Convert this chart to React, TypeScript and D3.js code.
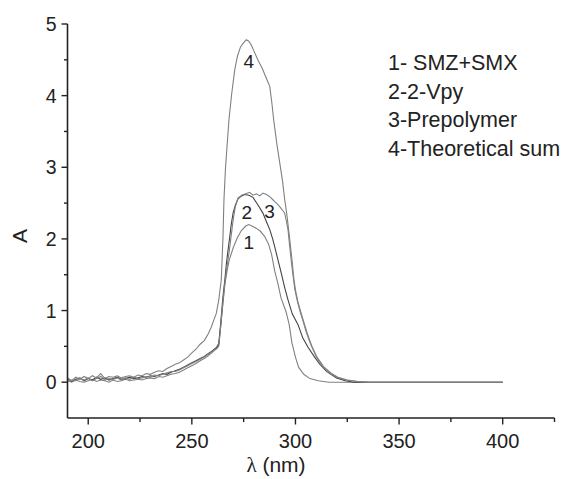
import React from "react";
import * as d3 from "d3";

const W = 577;
const H = 479;

const baseWl = [190,192,194,196,198,200,202,204,206,208,210,212,214,216,218,220,222,224,226,228,230,232,234,236,238,240];

const wl1 = [...baseWl, 242,244,246,248,250,252,254,256,258,260,262,263,264,265,266,267,268,270,272,274,276,277.5,279,281,283,285,287,288.5,290,291.5,293,295.5,297,298.3,300,301.5,304,307,311,316,350,375,400];
const a1 = [0.02,0.00,0.03,0.01,0.00,0.02,0.04,0.01,0.03,0.02,0.00,0.03,0.01,0.02,0.04,0.02,0.03,0.04,0.03,0.05,0.06,0.05,0.08,0.07,0.09,0.11,
  0.12,0.14,0.17,0.20,0.23,0.26,0.30,0.33,0.37,0.42,0.47,0.52,0.80,1.10,1.38,1.55,1.70,1.88,2.02,2.12,2.18,2.20,2.18,2.15,2.11,2.04,1.93,1.78,1.55,1.38,1.18,0.98,0.80,0.55,0.35,0.21,0.11,0.05,0.02,0.0,0.0,0.0,0.0];

const wl2 = [...baseWl, 242,244,246,248,250,252,254,256,258,260,262,263,264,265,266,266.7,267.5,268.3,269,269.9,271,272.3,274,275.5,277.5,279.5,282,284.3,286,287.6,289,290,291.2,292.4,293.5,294.8,296.4,298.5,301.3,303.5,306,309,311.7,315,319.8,324,328,375,400];
const a2 = [0.05,0.01,0.04,0.06,0.02,0.05,0.03,0.07,0.04,0.06,0.03,0.05,0.07,0.04,0.05,0.07,0.05,0.06,0.08,0.07,0.09,0.08,0.10,0.12,0.11,0.14,
  0.16,0.18,0.21,0.24,0.27,0.30,0.33,0.36,0.40,0.44,0.49,0.54,0.85,1.19,1.45,1.66,1.85,2.03,2.20,2.36,2.47,2.56,2.60,2.62,2.61,2.58,2.47,2.36,2.24,2.13,2.00,1.89,1.75,1.61,1.48,1.32,1.15,0.95,0.80,0.62,0.49,0.36,0.25,0.15,0.06,0.02,0.0,0.0,0.0];

const wl3 = [...baseWl, 242,244,246,248,250,252,254,256,258,260,262,263,264,265,266,267,268,269,270,271,272.3,274,276,277.9,279.5,281.2,282.8,284.3,286,287.6,289,290,291.2,292.4,293.5,294.8,295.6,296.4,297.2,298.1,299,299.7,301,302.1,303.7,305.3,307.5,310.1,313,316.6,320,324.6,330,335,375,400];
const a3 = [0.01,0.03,0.02,0.05,0.03,0.06,0.02,0.05,0.08,0.03,0.05,0.04,0.06,0.03,0.06,0.04,0.07,0.05,0.06,0.08,0.07,0.10,0.09,0.11,0.13,0.15,
  0.15,0.17,0.20,0.23,0.26,0.29,0.32,0.35,0.39,0.43,0.47,0.50,0.80,1.12,1.40,1.62,1.82,2.05,2.28,2.45,2.57,2.61,2.63,2.65,2.61,2.63,2.60,2.64,2.62,2.59,2.55,2.52,2.49,2.45,2.41,2.36,2.25,2.13,1.90,1.66,1.45,1.29,1.12,1.00,0.85,0.69,0.52,0.35,0.22,0.13,0.07,0.03,0.01,0.0,0.0,0.0];

const wl4 = [...baseWl, 242,244,246,248,250,252,254,256,258,259.4,260.5,261.8,263,264.2,265,265.5,266.2,267,267.9,269.2,270.7,272,273.5,275,276.3,277.5,278.8,280.3,282,284,286,287.6,288.6,289.5,291,292.9,293.8,294.8,295.8,296.7,297.6,298.5,299.2,300,301.2,302.4,304,305.6,307.8,310.4,313.5,317,320.5,325,330,336,400];
const a4 = [0.06,0.02,0.07,0.04,0.08,0.05,0.09,0.06,0.12,0.05,0.08,0.07,0.09,0.06,0.08,0.09,0.07,0.10,0.09,0.12,0.11,0.14,0.16,0.15,0.19,0.22,
  0.25,0.27,0.31,0.35,0.41,0.46,0.53,0.58,0.68,0.77,0.86,0.96,1.15,1.43,2.00,2.55,2.97,3.30,3.66,4.02,4.36,4.55,4.68,4.74,4.78,4.76,4.70,4.60,4.49,4.38,4.24,4.13,3.90,3.66,3.33,2.97,2.80,2.55,2.35,2.13,1.90,1.66,1.45,1.29,1.12,1.00,0.84,0.69,0.51,0.35,0.22,0.13,0.07,0.03,0.01,0.0,0.0];

const seriesNames = ["1- SMZ+SMX", "2-2-Vpy", "3-Prepolymer", "4-Theoretical sum"];
const curveLabels = ["1", "2", "3", "4"];
const curveLabelPos = [[277.5, 1.96], [276.5, 2.38], [287.5, 2.39], [277.5, 4.48]];
const xTicks = [200, 250, 300, 350, 400];
const xMinor = [225, 275, 325, 375, 425];
const yTicks = [0, 1, 2, 3, 4, 5];
const yMinor = [0.5, 1.5, 2.5, 3.5, 4.5];

const series = [
  { wl: wl1, a: a1, color: "#808080" },
  { wl: wl2, a: a2, color: "#444444" },
  { wl: wl3, a: a3, color: "#808080" },
  { wl: wl4, a: a4, color: "#808080" },
];

export default function App() {
  const x = d3.scaleLinear().domain([190, 425]).range([67.5, 554.5]);
  const y = d3.scaleLinear().domain([-0.5, 5]).range([418, 24]);
  const line = d3
    .line<[number, number]>()
    .x((d) => x(d[0]))
    .y((d) => y(d[1]));
  const axisColor = "#222";
  const font = "'Liberation Sans', Arial, sans-serif";
  const textColor = "#222";

  return (
    <svg
      width={W}
      height={H}
      style={{ position: "absolute", left: 0, top: 0, background: "#fff" }}
      fontFamily={font}
    >
      <rect x={0} y={0} width={W} height={H} fill="#fff" />
      {series.map((s, i) => (
        <path
          key={i}
          d={line(s.wl.map((w, k) => [w, s.a[k]] as [number, number])) || ""}
          fill="none"
          stroke={s.color}
          strokeWidth={1.1}
        />
      ))}
      {/* axes */}
      <line x1={x(190)} x2={x(190)} y1={y(5)} y2={y(-0.5)} stroke={axisColor} strokeWidth={1.6} />
      <line x1={x(190)} x2={x(425)} y1={y(-0.5)} y2={y(-0.5)} stroke={axisColor} strokeWidth={1.6} />
      {yTicks.map((t) => (
        <g key={"yt" + t}>
          <line x1={x(190) - 6} x2={x(190)} y1={y(t)} y2={y(t)} stroke={axisColor} strokeWidth={1.4} />
          <text x={x(190) - 11} y={y(t)} dy="0.36em" textAnchor="end" fontSize={19.5} fill={textColor}>
            {t}
          </text>
        </g>
      ))}
      {yMinor.map((t) => (
        <line key={"ym" + t} x1={x(190) - 3.5} x2={x(190)} y1={y(t)} y2={y(t)} stroke={axisColor} strokeWidth={1.4} />
      ))}
      {xTicks.map((t) => (
        <g key={"xt" + t}>
          <line x1={x(t)} x2={x(t)} y1={y(-0.5)} y2={y(-0.5) + 6.5} stroke={axisColor} strokeWidth={1.4} />
          <text x={x(t)} y={y(-0.5) + 30} textAnchor="middle" fontSize={20} fill={textColor}>
            {t}
          </text>
        </g>
      ))}
      {xMinor.map((t) => (
        <line key={"xm" + t} x1={x(t)} x2={x(t)} y1={y(-0.5)} y2={y(-0.5) + 4} stroke={axisColor} strokeWidth={1.4} />
      ))}
      {/* axis titles */}
      <text
        transform={`translate(27, 236) rotate(-90)`}
        textAnchor="middle"
        fontSize={21}
        fill={textColor}
      >
        A
      </text>
      <text x={276} y={472} textAnchor="middle" fontSize={21} fill={textColor}>
        <tspan fontFamily="'Liberation Serif', 'DejaVu Serif', serif">λ</tspan>
        <tspan> (nm)</tspan>
      </text>
      {/* curve labels */}
      {curveLabels.map((c, i) => (
        <text
          key={"cl" + i}
          x={x(curveLabelPos[i][0])}
          y={y(curveLabelPos[i][1])}
          dy="0.36em"
          textAnchor="middle"
          fontSize={19}
          fill={textColor}
        >
          {c}
        </text>
      ))}
      {/* legend */}
      {seriesNames.map((n, i) => (
        <text key={"lg" + i} x={388} y={70 + i * 28.5} fontSize={21.5} fill={textColor}>
          {n}
        </text>
      ))}
    </svg>
  );
}
